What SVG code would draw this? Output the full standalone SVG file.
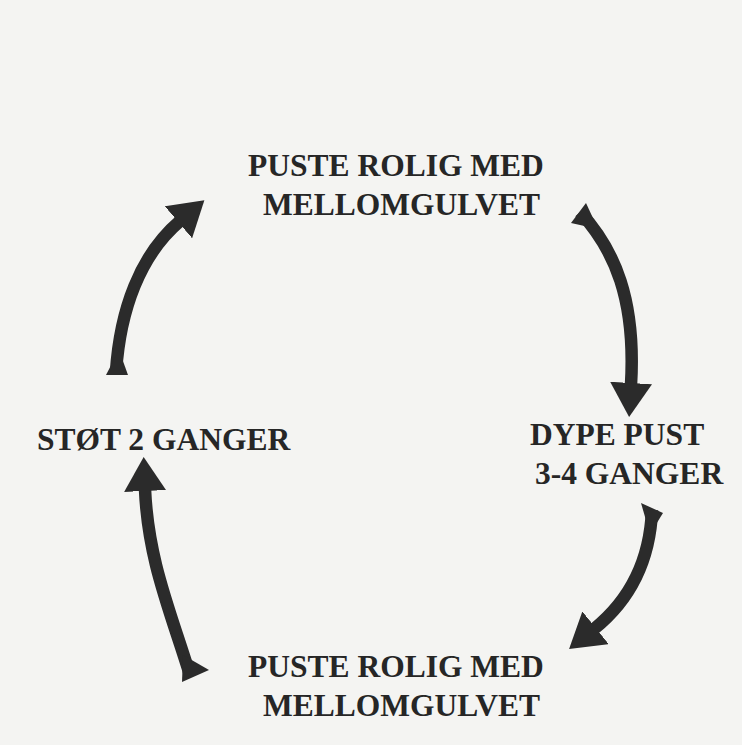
<svg xmlns="http://www.w3.org/2000/svg" width="742" height="745" viewBox="0 0 742 745">
  <style>
    .lbl { font-family: "Liberation Serif", "Times New Roman", serif; font-weight: bold; font-size: 31.5px; fill: #262626; }
    .shaft { fill: none; stroke: #2b2b2b; stroke-width: 12.5; stroke-linecap: butt; }
    .tail { fill: #2b2b2b; }
  </style>
  <defs>
    <marker id="head" viewBox="0 0 34 42" refX="2" refY="21" markerWidth="34" markerHeight="42" markerUnits="userSpaceOnUse" orient="auto">
      <path d="M0,0 L34,21 L0,42 Z" fill="#2b2b2b"/>
    </marker>
  </defs>
  <rect x="0" y="0" width="742" height="745" fill="#f4f4f2"/>

  <g id="connectors">
    <path class="shaft" d="M116,372 C120,310 140,255 180,221" marker-end="url(#head)"/>
    <polygon class="tail" points="106,375 128,375 119,350"/>
    <path class="shaft" d="M580,212 C615,250 636,300 631,385" marker-end="url(#head)"/>
    <polygon class="tail" points="571,223 586,203 598,229"/>
    <path class="shaft" d="M652,510 C650,560 630,600 594,629" marker-end="url(#head)"/>
    <polygon class="tail" points="641,503 663,513 650,534"/>
    <path class="shaft" d="M190,675 C170,610 148,560 145,489" marker-end="url(#head)"/>
    <polygon class="tail" points="182,682 209,670 183,655"/>
  </g>

  <g id="node-top">
    <text class="lbl" x="248" y="176">PUSTE ROLIG MED</text>
    <text class="lbl" x="263" y="215">MELLOMGULVET</text>
  </g>
  <g id="node-right">
    <text class="lbl" x="530" y="445">DYPE PUST</text>
    <text class="lbl" x="535" y="484">3-4 GANGER</text>
  </g>
  <g id="node-bottom">
    <text class="lbl" x="248" y="677">PUSTE ROLIG MED</text>
    <text class="lbl" x="263" y="716">MELLOMGULVET</text>
  </g>
  <g id="node-left">
    <text class="lbl" x="37" y="450">STØT 2 GANGER</text>
  </g>
</svg>
